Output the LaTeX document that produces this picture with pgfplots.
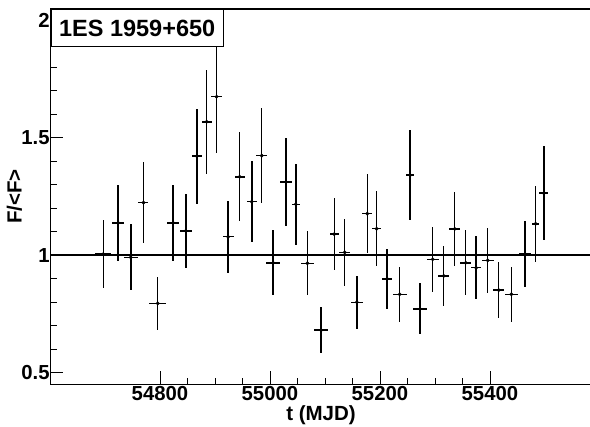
\documentclass[border=0pt]{standalone}
\usepackage{fontspec}
\setmainfont{Liberation Sans}
\usepackage{pgfplots}
\pgfplotsset{compat=1.18}
\usepackage{pgfplotstable}

\pgfplotstableread{
x ex y ey
54697 14.2 1.004 0.144
54724 10.5 1.137 0.162
54747 12.2 0.990 0.140
54770 9.0 1.223 0.172
54796 15.8 0.794 0.112
54824 11.0 1.137 0.161
54847 10.6 1.103 0.157
54867 9.0 1.421 0.202
54885 9.0 1.567 0.222
54903 10.3 1.674 0.240
54924 10.0 1.078 0.153
54945 9.0 1.333 0.189
54967 9.0 1.227 0.173
54985 9.7 1.423 0.202
55006 12.7 0.967 0.138
55029 10.3 1.311 0.186
55047 7.6 1.216 0.173
55068 11.8 0.965 0.137
55093 13.3 0.680 0.097
55117 8.5 1.089 0.154
55136 9.6 1.011 0.144
55158 10.9 0.799 0.113
55177 9.0 1.176 0.167
55194 8.2 1.112 0.159
55213 9.0 0.899 0.128
55236 12.7 0.833 0.117
55255 7.3 1.340 0.190
55273 12.7 0.771 0.108
55296 10.9 0.982 0.139
55316 9.6 0.911 0.129
55336 10.3 1.111 0.157
55356 10.0 0.967 0.138
55375 9.0 0.946 0.133
55396 11.3 0.977 0.138
55416 10.0 0.851 0.120
55439 12.2 0.833 0.117
55464 11.3 1.004 0.142
55483 6.9 1.133 0.161
55498 8.2 1.263 0.200
}\datatab

\begin{document}
\begin{tikzpicture}
\begin{axis}[
  at={(0,0)}, anchor=south west,
  scale only axis, width=545pt, height=375.3pt,
  xmin=54601, xmax=55592, ymin=0.45, ymax=2.047,
  axis line style={line width=1.4pt},
  tick align=inside, xtick pos=bottom, ytick pos=left,
  xtick={54800,55000,55200,55400}, minor x tick num=3,
  ytick={0.5,1,1.5,2}, minor y tick num=4,
  major tick length=13pt, minor tick length=6.5pt,
  tick style={black, line width=0.8pt},
  ticklabel style={font=\fontsize{20.3}{23}\selectfont\bfseries},
  xticklabel style={yshift=1.5pt},
  yticklabel style={xshift=2.7pt},
  /pgf/number format/assume math mode=true,
  /pgf/number format/1000 sep={},
  scaled x ticks=false,
  xlabel={t (MJD)}, ylabel={F/<F>},
  label style={font=\fontsize{20.5}{24}\selectfont\bfseries},
  xlabel style={at={(axis description cs:0.4963,-0.0818)}, anchor=center},
  ylabel style={at={(axis description cs:-0.0661,0.5)}, anchor=center, rotate=0},
  clip=false,
]
\addplot[black, line width=1.7pt] coordinates {(54601,1) (55592,1)};
\addplot[black, only marks, mark=*, mark size=1.7pt,
  error bars/.cd, x dir=both, x explicit, y dir=both, y explicit,
  error mark=none, error bar style={line width=1.5pt, black}]
  table[x=x, y=y, x error=ex, y error=ey] {\datatab};
\node[draw, fill=white, line width=1.4pt, anchor=north west,
  minimum width=172pt, minimum height=37pt, inner sep=0pt,
  font=\fontsize{23.5}{27}\selectfont\bfseries] at (rel axis cs:0,1) {1ES 1959+650};
\end{axis}
\pgfresetboundingbox
\useasboundingbox (-50.5pt,-42.7pt) rectangle (539.5pt,384.3pt);
\end{tikzpicture}
\end{document}
